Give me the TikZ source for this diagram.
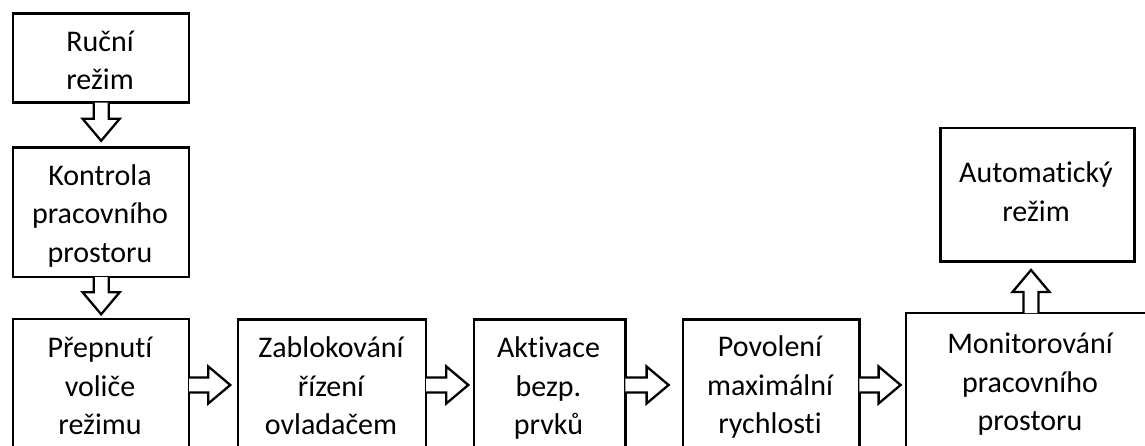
\documentclass[tikz,border=0pt]{standalone}
\usepackage{fontspec}
\setmainfont{Carlito}[Ligatures=NoCommon]
\newcommand\blockarrow[3]{%
  \begin{scope}[shift={#1}, rotate=#2]
    \draw[blk] (-1.2,-7.5) -- ({#3-22},-7.5) -- ({#3-22},-18.5) -- (#3,0) -- ({#3-22},18.5) -- ({#3-22},7.5) -- (-1.2,7.5);
  \end{scope}}
\begin{document}
\begin{tikzpicture}[x=1pt,y=-1pt,
  box/.style={draw, line width=2.3pt, inner sep=0pt, anchor=north west},
  txt/.style={font=\fontsize{30}{38.5}\selectfont, align=center, anchor=base, inner sep=0pt},
  blk/.style={draw, fill=white, line width=2.3pt, line join=miter}]
\useasboundingbox (0,0) rectangle (1145,446);
\clip (0,0) rectangle (1145,446);
\fill[white] (0,0) rectangle (1145,446);
% boxes
\node[box, minimum width=176pt, minimum height=89pt]    (b1) at (12,12.5) {};
\node[box, minimum width=176pt, minimum height=129.5pt] (b2) at (12,146.5) {};
\node[box, minimum width=176pt, minimum height=200pt]   (b3) at (12,318) {};
\node[box, minimum width=188.3pt, minimum height=200pt] (b4) at (236.7,318.3) {};
\node[box, minimum width=151.6pt, minimum height=200pt] (b5) at (472.7,318.3) {};
\node[box, minimum width=176.6pt, minimum height=200pt] (b6) at (681.7,318.3) {};
\node[box, minimum width=255pt, minimum height=200pt]   (b7) at (905,312) {};
\node[box, minimum width=194pt, minimum height=133.6pt] (b8) at (939.3,126.7) {};
% texts (anchor at baseline of last line)
\node[txt] (t1) at (100,90) {Ruční\\režim};
\node[txt] (t2) at (100,262) {Kontrola\\pracovního\\prostoru};
\node[txt] (t3) at (100,434.5) {Přepnutí\\voliče\\režimu};
\node[txt] (t4) at (331,434.5) {Zablokování\\řízení\\ovladačem};
\node[txt] (t5) at (548.5,434.5) {Aktivace\\bezp.\\prvků};
\node[txt] (t6) at (770,433.5) {Povolení\\maximální\\rychlosti};
\node[txt] (t7) at (1030,430.5) {Monitorování\\pracovního\\prostoru};
\node[txt] (t8) at (1036,221.5) {Automatický\\režim};
% connectors
\coordinate (row) at (0,385);
\coordinate (upcol) at (1031,0);
\blockarrow{(b1.south)}{-90}{37}
\blockarrow{(b2.south)}{-90}{36}
\blockarrow{(b3.east |- row)}{0}{40}
\blockarrow{(b4.east |- row)}{0}{41}
\blockarrow{(b5.east |- row)}{0}{42}
\blockarrow{(b6.east |- row)}{0}{40}
\blockarrow{(upcol |- b7.north)}{90}{42}
\end{tikzpicture}
\end{document}
